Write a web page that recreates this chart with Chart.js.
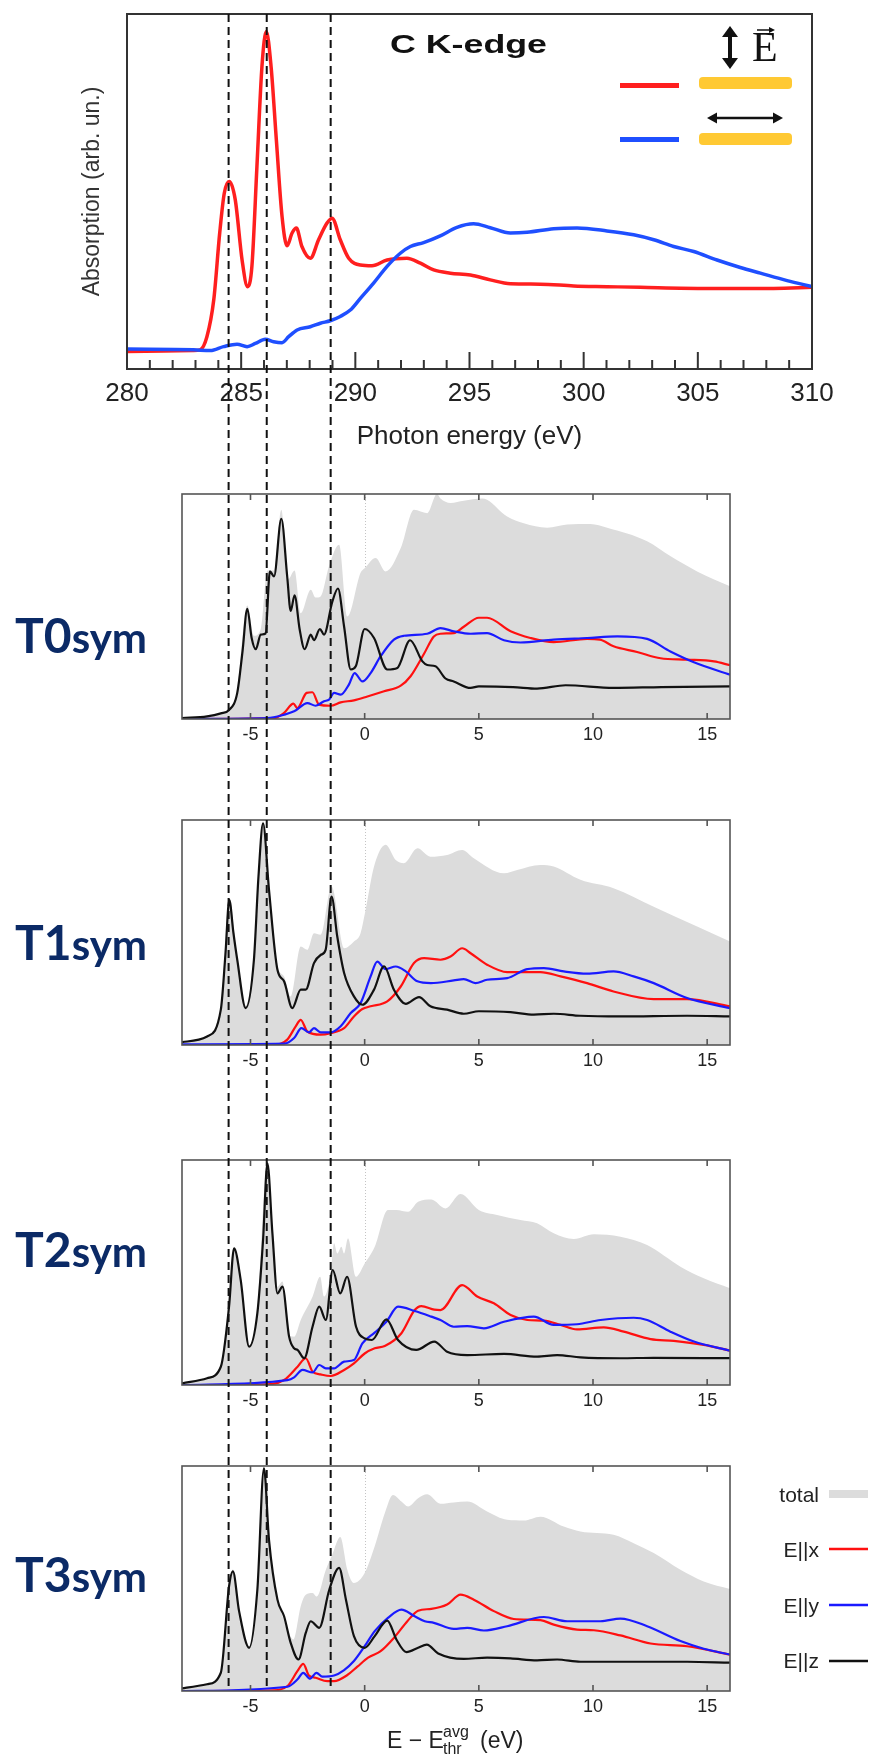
<!DOCTYPE html>
<html>
<head>
<meta charset="utf-8">
<script src="https://cdn.jsdelivr.net/npm/chart.js@4.4.1/dist/chart.umd.min.js"></script>
<style>
  html, body { margin: 0; padding: 0; background: #fff; }
  #page { position: relative; width: 870px; height: 1758px; overflow: hidden; }
  #page canvas { position: absolute; left: 0; }
  #ann { position: absolute; left: 0; top: 0; pointer-events: none; }
</style>
</head>
<body>
<div id="page">
  <canvas id="xas" width="870" height="460" style="top:0px"></canvas>
  <canvas id="t0" width="870" height="271" style="top:488px"></canvas>
  <canvas id="t1" width="870" height="271" style="top:814px"></canvas>
  <canvas id="t2" width="870" height="271" style="top:1154px"></canvas>
  <canvas id="t3" width="870" height="271" style="top:1460px"></canvas>

  <svg id="ann" width="870" height="1758" xmlns="http://www.w3.org/2000/svg">
    <g id="dashes"></g>

    <!-- top panel title and polarisation key -->
    <text x="390" y="53" font-family="Liberation Sans, Arial, sans-serif" font-weight="700" font-size="25"
          textLength="157" lengthAdjust="spacingAndGlyphs" fill="#111">C K-edge</text>
    <line x1="730" y1="36" x2="730" y2="59" stroke="#111" stroke-width="4"/>
    <polygon points="730,26 722,37 738,37" fill="#111"/>
    <polygon points="730,69 722,58 738,58" fill="#111"/>
    <text x="752" y="61" font-family="Liberation Serif, serif" font-size="42" fill="#111">E</text>
    <line x1="757" y1="30" x2="770" y2="30" stroke="#111" stroke-width="1.5"/>
    <polygon points="775,30 769,27 769,33" fill="#111"/>
    <line x1="620" y1="85.5" x2="679" y2="85.5" stroke="#ff1f1f" stroke-width="5"/>
    <rect x="699" y="77" width="93" height="12" rx="4" fill="#ffc933"/>
    <line x1="715" y1="118" x2="775" y2="118" stroke="#111" stroke-width="2.5"/>
    <polygon points="707,118 717,112.5 717,123.5" fill="#111"/>
    <polygon points="783,118 773,112.5 773,123.5" fill="#111"/>
    <line x1="620" y1="139.5" x2="679" y2="139.5" stroke="#1f4fff" stroke-width="5"/>
    <rect x="699" y="133" width="93" height="12" rx="4" fill="#ffc933"/>

    <!-- structure labels -->
    <g font-family="Lato, sans-serif" font-weight="700" fill="#0b2a66">
      <text x="15" y="653"><tspan font-size="48">T0</tspan><tspan font-size="42">sym</tspan></text>
      <text x="15" y="960"><tspan font-size="48">T1</tspan><tspan font-size="42">sym</tspan></text>
      <text x="15" y="1267"><tspan font-size="48">T2</tspan><tspan font-size="42">sym</tspan></text>
      <text x="15" y="1592"><tspan font-size="48">T3</tspan><tspan font-size="42">sym</tspan></text>
    </g>

    <!-- bottom axis title -->
    <g font-family="Liberation Sans, Arial, sans-serif" fill="#222">
      <text x="387" y="1748" font-size="23">E − E</text>
      <text x="443" y="1737" font-size="16">avg</text>
      <text x="443" y="1754" font-size="16">thr</text>
      <text x="480" y="1748" font-size="23">(eV)</text>
    </g>

    <!-- legend of the computed spectra -->
    <g font-family="Liberation Sans, Arial, sans-serif" font-size="21" fill="#222" text-anchor="end">
      <text x="819" y="1502">total</text>
      <text x="819" y="1557">E||x</text>
      <text x="819" y="1613">E||y</text>
      <text x="819" y="1668">E||z</text>
    </g>
    <line x1="829" y1="1494" x2="868" y2="1494" stroke="#dcdcdc" stroke-width="8"/>
    <line x1="829" y1="1549" x2="868" y2="1549" stroke="#ff1010" stroke-width="2.5"/>
    <line x1="829" y1="1605" x2="868" y2="1605" stroke="#1a1aff" stroke-width="2.5"/>
    <line x1="829" y1="1661" x2="868" y2="1661" stroke="#111" stroke-width="2.5"/>
  </svg>
</div>

<script>
// ---- data ----
const xasTicks = [280, 285, 290, 295, 300, 305, 310];
const relTicks = [-5, 0, 5, 10, 15];
const dashEnergies = [284.45, 286.12, 288.92];

// measured C K-edge, [photon energy eV, absorption]
const xasRed = [[280,4.9],[282.9,5.2],[283.2,5.4],[283.5,9.1],[283.8,19.5],[284.06,38.3],[284.26,49.5],[284.48,52.8],[284.74,47.7],[285.04,30.7],[285.28,23.2],[285.47,28.9],[285.69,57],[285.91,85.2],[286.1,95.1],[286.31,85.2],[286.54,64.6],[286.79,43],[287.01,34.7],[287.23,38.3],[287.42,39.7],[287.66,34.5],[288.03,31.2],[288.39,36.4],[288.76,41.1],[288.98,42.5],[289.34,36.4],[289.71,31.2],[290.22,29.3],[290.73,29.1],[291.39,30.7],[292.26,31.2],[292.85,29.8],[293.43,27.9],[294.16,27],[295.04,26.5],[295.91,25.1],[296.79,24],[298.1,23.9],[299.56,23.4],[301.02,23.2],[302.48,23],[305.4,22.7],[308.32,22.7],[310,23]];
const xasBlue = [[280,5.6],[282.9,5.4],[283.65,5.2],[284.23,6.3],[284.82,7],[285.26,6.3],[285.62,7.2],[286.06,8.4],[286.42,7.7],[286.79,7.4],[287.08,9.1],[287.45,11],[288.03,11.9],[288.47,12.9],[288.9,13.6],[289.34,14.8],[289.78,16.6],[290.22,19.9],[290.8,24.2],[291.39,28.9],[291.97,32.6],[292.41,34.5],[292.99,35.6],[293.72,37.5],[294.45,39.9],[295.18,40.9],[295.91,39.8],[296.79,38.3],[297.52,38.5],[298.69,39.5],[299.71,39.7],[301.02,38.9],[302.19,37.8],[303.07,36.4],[303.94,34.5],[304.82,33.1],[305.84,30.7],[306.86,28.6],[307.74,27],[308.91,24.9],[310,23.2]];

// computed spectra, [E - Ethr eV, intensity]
const t0Total = [[-8,0.6],[-6.9,1.5],[-5.94,4.5],[-5.58,13],[-5.14,50.5],[-4.85,37],[-4.55,40],[-4.26,66],[-3.97,66],[-3.65,93],[-3.36,62],[-3.07,66],[-2.8,47],[-2.36,57.5],[-2.15,54],[-1.93,54.5],[-1.56,68],[-1.12,77.5],[-0.76,45.6],[-0.18,65],[0,67],[0.48,71.6],[0.92,65.6],[1.58,76],[2.16,93],[2.74,91.5],[3.17,100],[3.32,98],[3.76,96],[4.34,97],[5.15,98],[5.36,97.5],[6.24,90],[6.97,87],[7.99,85],[8.87,86.4],[9.89,86.7],[10.62,85],[12.37,79],[13.4,72.3],[14.56,65.6],[16,59]];
const t0X = [[-8,0],[-3.97,0.4],[-3.53,2.7],[-3.12,6.8],[-2.95,4.9],[-2.54,11.6],[-2.29,11.9],[-2,6.4],[-1.49,5.9],[-1.05,7.4],[-0.47,8.3],[0.12,10],[0.85,12.3],[1.58,14.8],[2.01,19],[2.6,29],[3.03,36.7],[3.32,37.9],[3.9,38.2],[4.34,41],[5,45],[5.36,45],[6.39,39],[7.26,36],[8.28,34.2],[9.74,35.6],[10.3,35.3],[10.9,32.3],[11.93,29.8],[12.96,27],[14.12,26.4],[15.3,25.6],[16,23.9]];
const t0Y = [[-8,0],[-4.26,0.4],[-3.53,1.9],[-3.09,3.4],[-2.51,7.1],[-2.15,5.9],[-1.78,7.9],[-1.56,8.6],[-1.34,11.6],[-1.05,10.8],[-0.69,15.3],[-0.44,20.4],[-0.1,16.7],[0.26,20.4],[0.7,27.9],[1.28,35.3],[1.72,37],[2.74,37.9],[3.32,40.4],[3.9,39],[4.64,37.9],[5.36,38.2],[6.1,35],[6.82,34],[8.28,35.3],[9.74,36],[11.06,36.7],[12.37,35.6],[13.39,30],[14.42,25.2],[16,19.7]];
const t0Z = [[-8,0.4],[-6.9,1.2],[-6.3,2.5],[-5.94,4],[-5.58,11.6],[-5.35,30],[-5.14,49],[-4.95,36],[-4.77,31],[-4.55,37.5],[-4.34,38],[-4.15,65.6],[-3.97,63.4],[-3.65,89],[-3.39,63],[-3.24,48],[-3.07,55],[-2.85,40],[-2.63,31],[-2.36,37.5],[-2.22,35],[-1.96,40],[-1.78,37.5],[-1.42,52],[-1.17,58],[-0.9,41],[-0.61,22],[-0.39,23.4],[0,40],[0.41,36],[0.99,22],[1.43,22.7],[1.99,35],[2.53,25.6],[2.74,24],[3.1,23.4],[3.54,18],[3.9,16.7],[4.64,13.8],[5,14.5],[6.5,14.2],[7.55,13.5],[8.8,15],[10.9,13.8],[13,14.2],[16,14.5]];

const t1Total = [[-8,1.6],[-6.9,4.2],[-6.3,16.5],[-5.93,65.5],[-5.58,39],[-5.21,17.5],[-4.85,39],[-4.45,99.5],[-4.19,70.5],[-3.82,35],[-3.53,30.5],[-3.24,21.6],[-2.8,43.8],[-2.51,42.3],[-2.22,49.7],[-1.93,49],[-1.45,70.4],[-0.9,43],[-0.47,46],[-0.18,49.7],[0.04,60],[0.41,79.3],[0.92,89],[1.36,82.2],[1.72,80.8],[2.31,87.4],[2.88,83.7],[3.61,84.5],[4.27,86.7],[4.78,83],[6.1,76.3],[6.68,77.8],[7.7,80],[8.28,79.3],[9.45,73.4],[10.9,69.7],[12.66,61.5],[14.56,52.7],[16,46]];
const t1X = [[-8,0],[-3.97,0],[-3.39,2.4],[-3.02,8.3],[-2.8,11.2],[-2.51,6],[-1.93,4.6],[-1.49,5.3],[-0.9,7.5],[-0.47,12.7],[-0.1,16],[0.26,17.2],[0.99,19.4],[1.58,26],[2.16,36.4],[2.6,38.6],[3.32,37.9],[3.76,39.3],[4.27,43],[4.64,40.8],[5.36,35.7],[6.24,32.4],[7.7,32.4],[8.58,30.5],[9.74,27.5],[10.9,23.8],[12.66,20.4],[14.12,20.4],[16,17.2]];
const t1Y = [[-8,0.3],[-3.53,0.6],[-3.09,3.1],[-2.77,7.5],[-2.44,5.6],[-2.22,7.5],[-1.93,5.6],[-1.49,5.6],[-1.05,8.3],[-0.61,14.2],[-0.18,18.6],[0.26,30.5],[0.55,37.1],[0.92,33.7],[1.36,34.9],[1.8,32.7],[2.31,28.3],[2.9,27.5],[3.9,28.7],[4.34,29.3],[4.85,27.5],[5.36,29],[6.24,29.7],[7.12,33.7],[7.85,34.2],[8.72,32.7],[9.74,31.7],[10.9,32.7],[11.78,30.5],[12.66,27.5],[14.12,20.9],[16,16.4]];
const t1Z = [[-8,1.3],[-6.9,3.8],[-6.3,15.7],[-6.1,40],[-5.93,64.5],[-5.75,50],[-5.58,37.9],[-5.21,16.4],[-4.85,37.9],[-4.65,75],[-4.45,98.5],[-4.19,69],[-3.82,33.4],[-3.53,28.3],[-3.17,16.4],[-2.8,24.6],[-2.58,24.6],[-2.22,36.4],[-1.93,40],[-1.71,42.3],[-1.45,66],[-1.2,48.2],[-0.9,32],[-0.47,21.6],[-0.1,17.9],[0.41,24.6],[0.85,35],[1.28,24.6],[1.8,18.3],[2.38,21.3],[2.88,17.2],[3.61,15.7],[4.34,13.9],[5,15],[6.39,14.6],[7.41,13.5],[8.28,13.9],[9.45,13],[11.2,12.7],[14.12,13],[16,12.7]];

const t2Total = [[-8,1],[-6.9,3.4],[-6.3,9],[-5.94,36],[-5.72,61.5],[-5.43,48],[-5.06,17.8],[-4.7,33],[-4.26,99.2],[-4.04,68.5],[-3.82,43.7],[-3.6,46],[-3.31,22.2],[-3.09,21.5],[-2.8,28.9],[-2.28,39.3],[-1.95,48.1],[-1.78,39.3],[-1.49,49.6],[-1.34,63],[-1.2,58.5],[-1.02,61.5],[-0.9,58.5],[-0.73,65.2],[-0.38,48.1],[0,54],[0.44,61.5],[1.02,77.8],[1.39,77.8],[1.9,77],[2.34,81.5],[2.92,82.5],[3.54,78.5],[4.2,84.9],[5,77.8],[5.8,75.6],[6.82,73.3],[7.55,71.9],[8.28,67.4],[9.16,64.9],[10.04,67],[11.2,65.9],[12.37,62.2],[13.83,52.6],[14.85,47.4],[16,43]];
const t2X = [[-8,0],[-4.26,0.3],[-3.53,2.2],[-2.94,8.1],[-2.58,11.9],[-2.28,5.9],[-1.93,4.7],[-1.49,4],[-0.9,6.7],[-0.47,9.6],[0,14],[0.44,16.3],[0.88,17.3],[1.61,23],[2.19,33.3],[2.48,35.1],[3.05,33.5],[3.32,33.3],[4.27,44.4],[4.93,39.3],[5.66,36.3],[6.39,31.1],[7.12,28.9],[7.85,28.6],[8.58,26.7],[9.3,24.7],[10.47,25.6],[11.35,23.7],[12.52,20.4],[13.54,19.6],[14.85,17.8],[16,15.3]];
const t2Y = [[-8,0],[-3.38,2.2],[-3.09,3.4],[-2.72,6.7],[-2.28,5.6],[-1.99,8.9],[-1.7,7.4],[-1.34,7.4],[-0.9,10.4],[-0.47,11.1],[-0.1,18.5],[0.44,23.3],[0.95,28.1],[1.46,34.8],[2.19,32.9],[2.92,30.4],[3.32,28.9],[3.9,25.9],[4.49,26.2],[5.22,25.2],[6.1,28.1],[7.41,30.4],[8.28,26.7],[9.3,27],[10.33,28.9],[11.78,29.9],[12.37,28.9],[13.39,23.7],[14.42,19.3],[16,15.3]];
const t2Z = [[-8,0.7],[-6.9,3],[-6.3,8.1],[-5.94,34.8],[-5.72,60.7],[-5.43,46.7],[-5.06,17],[-4.7,31.9],[-4.45,64.4],[-4.26,98.5],[-4.04,67.4],[-3.82,40.7],[-3.6,43.7],[-3.31,21.5],[-3.09,16.3],[-2.94,15.6],[-2.65,11.9],[-2.28,26],[-1.99,34.8],[-1.7,28.9],[-1.4,51.1],[-1.07,40.7],[-0.77,48.1],[-0.38,26],[0,20.7],[0.32,20],[0.95,29.2],[1.46,20],[2.26,15.6],[3.05,19.3],[3.61,14.8],[4.49,13.3],[6.1,13.8],[7.55,12.6],[8.43,13.3],[9.45,12.3],[11.2,11.9],[12.66,12.1],[16,11.9]];

const t3Total = [[-8,1.4],[-6.9,3.4],[-6.3,9],[-5.94,47.5],[-5.77,54],[-5.5,37],[-5.06,20],[-4.7,46],[-4.41,99.7],[-4.19,68],[-3.82,42],[-3.38,27.3],[-3.12,22.9],[-2.8,37.7],[-2.58,42.8],[-2.28,43.6],[-2.1,42],[-1.7,53.9],[-1.42,60.6],[-1.07,68.4],[-0.76,53.9],[-0.47,48],[0,52.4],[0.44,64.3],[0.88,79],[1.24,87.1],[1.61,84.2],[1.9,82],[2.34,85.7],[2.74,87.4],[3.32,83.2],[3.9,83.8],[4.49,84.2],[5.36,79.8],[6.24,76.1],[6.97,75.8],[7.7,77.5],[8.72,73.1],[9.45,70.9],[10.9,69.4],[11.78,65.7],[12.66,61.3],[13.83,53.9],[14.85,48.7],[16,45.3]];
const t3X = [[-8,0],[-3.97,0.3],[-3.38,2.2],[-2.94,8.9],[-2.69,12.1],[-2.44,6.9],[-2.15,5.9],[-1.64,4.4],[-1.34,4.4],[-0.76,7.1],[-0.32,10.8],[0.15,14.8],[0.7,17.7],[1.28,23.6],[1.87,31],[2.34,35.7],[2.92,36.5],[3.61,38.4],[4.2,42.8],[4.78,40.6],[5.66,35.5],[6.53,32],[7.7,31.5],[8.28,29.5],[9.3,27.3],[10.04,27],[11.2,24.7],[12.52,21.1],[14.12,19.9],[16,16.2]];
const t3Y = [[-8,0],[-3.38,1.9],[-2.94,5.2],[-2.69,8.1],[-2.39,5.5],[-2.11,8.1],[-1.85,6.4],[-1.34,6.9],[-0.9,9.3],[-0.47,13.3],[0,19.9],[0.44,26.6],[1.02,32.5],[1.61,36.2],[2.19,33.2],[2.63,31],[3.03,30.3],[3.9,27.6],[4.49,28.1],[5.22,26.9],[6.24,28.8],[7.85,32.9],[8.87,31],[10.33,31],[11.2,32.2],[12.37,28.8],[13.83,22.2],[14.85,18.8],[16,16.2]];
const t3Z = [[-8,1.2],[-6.9,3],[-6.3,8.1],[-5.94,46.5],[-5.77,53.2],[-5.5,35.5],[-5.06,19.2],[-4.7,45],[-4.41,99],[-4.19,67.2],[-3.82,40.6],[-3.53,33.2],[-3.24,21.4],[-2.9,14],[-2.58,25.8],[-2.36,31],[-1.99,28.1],[-1.55,45],[-1.12,54.7],[-0.82,40.6],[-0.47,24.4],[0,19.2],[0.44,24.4],[0.99,31.3],[1.39,22.9],[1.83,17.3],[2.34,19.2],[2.72,20.6],[3.22,16.7],[4.34,14.3],[5.36,14.8],[6.39,14.5],[7.55,13.6],[8.43,14],[9.45,13],[11.2,13],[14.12,13],[16,12.6]];

// ---- drawing ----
Chart.defaults.font.family = "'Liberation Sans', Arial, sans-serif";

const pts = arr => arr.map(p => ({ x: p[0], y: p[1] }));
const fixTicks = list => scale => { scale.ticks = list.map(v => ({ value: v })); };

// box, inward tick marks and the faint zero line
const framePlugin = {
  id: 'frame',
  beforeDatasetsDraw(chart, args, o) {
    if (o.zeroLine === null) return;
    const { ctx, chartArea: a } = chart;
    const px = Math.round(chart.scales.x.getPixelForValue(o.zeroLine)) + 0.5;
    ctx.save();
    ctx.strokeStyle = '#c4c4c4';
    ctx.lineWidth = 1;
    ctx.setLineDash([1, 2]);
    ctx.beginPath();
    ctx.moveTo(px, a.top);
    ctx.lineTo(px, a.bottom);
    ctx.stroke();
    ctx.restore();
  },
  afterDatasetsDraw(chart, args, o) {
    const { ctx, chartArea: a } = chart;
    const sx = chart.scales.x;
    ctx.save();
    ctx.strokeStyle = o.color;
    ctx.lineWidth = o.width;
    ctx.beginPath();
    let marks = [];
    if (o.minorStep) {
      for (let v = sx.min; v <= sx.max; v += o.minorStep) marks.push(v);
    } else {
      marks = o.marks;
    }
    marks.forEach(v => {
      const px = sx.getPixelForValue(v);
      const len = (v % o.majorEvery === 0) ? o.majorLen : o.minorLen;
      ctx.moveTo(px, a.bottom);
      ctx.lineTo(px, a.bottom - len);
      if (o.mirror) {
        ctx.moveTo(px, a.top);
        ctx.lineTo(px, a.top + len);
      }
    });
    ctx.stroke();
    ctx.strokeRect(a.left, a.top, a.width, a.height);
    ctx.restore();
  }
};

const xasChart = new Chart(document.getElementById('xas'), {
  type: 'line',
  data: {
    datasets: [
      { data: pts(xasRed), borderColor: '#ff1f1f', borderWidth: 3.5, order: 2 },
      { data: pts(xasBlue), borderColor: '#1f4fff', borderWidth: 3.5, order: 1 }
    ]
  },
  options: {
    animation: false,
    responsive: false,
    devicePixelRatio: 1,
    layout: { padding: { left: 0, right: 58, top: 14, bottom: 0 } },
    elements: { point: { radius: 0 }, line: { cubicInterpolationMode: 'monotone' } },
    scales: {
      x: {
        type: 'linear', min: 280, max: 310,
        afterBuildTicks: fixTicks(xasTicks),
        afterFit: s => { s.height = 91; },
        grid: { display: false, drawTicks: false },
        border: { display: false },
        ticks: { padding: 9, font: { size: 26 }, color: '#222' },
        title: { display: true, text: 'Photon energy (eV)', font: { size: 26 }, color: '#222', padding: { top: 0, bottom: 8 } }
      },
      y: {
        min: 0, max: 100,
        afterFit: s => { s.width = 127; },
        grid: { display: false, drawTicks: false },
        border: { display: false },
        ticks: { display: false },
        title: { display: true, text: 'Absorption (arb. un.)', font: { size: 23 }, color: '#333', padding: { top: 79, bottom: 0 } }
      }
    },
    plugins: {
      legend: { display: false },
      tooltip: { enabled: false },
      frame: { color: '#333', width: 2, minorStep: 1, majorEvery: 5, minorLen: 9, majorLen: 17, mirror: false, zeroLine: null }
    }
  },
  plugins: [framePlugin]
});

const panels = [
  { id: 't0', total: t0Total, ex: t0X, ey: t0Y, ez: t0Z },
  { id: 't1', total: t1Total, ex: t1X, ey: t1Y, ez: t1Z },
  { id: 't2', total: t2Total, ex: t2X, ey: t2Y, ez: t2Z },
  { id: 't3', total: t3Total, ex: t3X, ey: t3Y, ez: t3Z }
];

// lower "order" is painted later, so the gray total sits underneath
const panelCharts = panels.map(p => new Chart(document.getElementById(p.id), {
  type: 'line',
  data: {
    datasets: [
      { data: pts(p.total), borderColor: 'rgba(0,0,0,0)', borderWidth: 0, backgroundColor: '#dcdcdc', fill: 'origin', order: 4 },
      { data: pts(p.ex), borderColor: '#ff1010', borderWidth: 2.2, order: 3 },
      { data: pts(p.ey), borderColor: '#1a1aff', borderWidth: 2.2, order: 2 },
      { data: pts(p.ez), borderColor: '#111', borderWidth: 2.2, order: 1 }
    ]
  },
  options: {
    animation: false,
    responsive: false,
    devicePixelRatio: 1,
    layout: { padding: { left: 182, right: 140, top: 6, bottom: 0 } },
    elements: { point: { radius: 0 }, line: { cubicInterpolationMode: 'monotone' } },
    scales: {
      x: {
        type: 'linear', min: -8, max: 16,
        afterBuildTicks: fixTicks(relTicks),
        afterFit: s => { s.height = 40; },
        grid: { display: false, drawTicks: false },
        border: { display: false },
        ticks: { padding: 5, font: { size: 18 }, color: '#222' }
      },
      y: { display: false, min: 0, max: 100 }
    },
    plugins: {
      legend: { display: false },
      tooltip: { enabled: false },
      frame: { color: '#555', width: 1.6, marks: relTicks, majorEvery: 1, minorLen: 6, majorLen: 6, mirror: true, zeroLine: 0 }
    }
  },
  plugins: [framePlugin]
}));

// dashed guide lines: positions come from the photon-energy scale
(function drawGuides() {
  const g = document.getElementById('dashes');
  const sx = xasChart.scales.x;
  const top = xasChart.canvas.offsetTop + xasChart.chartArea.top;
  const last = panelCharts[panelCharts.length - 1];
  const bottom = last.canvas.offsetTop + last.chartArea.bottom;
  dashEnergies.forEach(e => {
    const px = sx.getPixelForValue(e);
    const ln = document.createElementNS('http://www.w3.org/2000/svg', 'line');
    ln.setAttribute('x1', px);
    ln.setAttribute('x2', px);
    ln.setAttribute('y1', top);
    ln.setAttribute('y2', bottom);
    ln.setAttribute('stroke', '#111');
    ln.setAttribute('stroke-width', '2');
    ln.setAttribute('stroke-dasharray', '8 5');
    g.appendChild(ln);
  });
})();
</script>
</body>
</html>
